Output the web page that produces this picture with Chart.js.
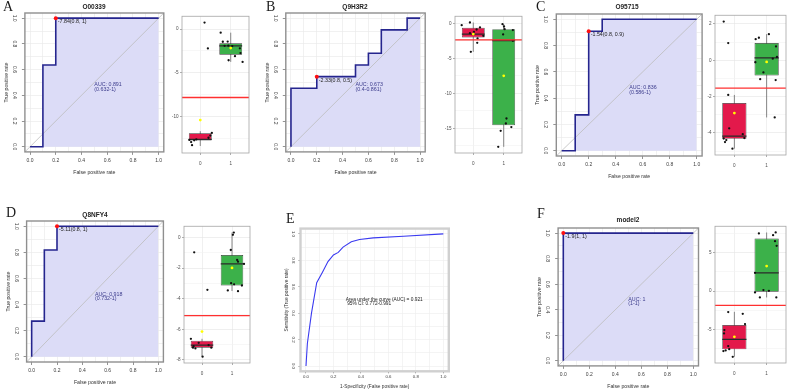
<!DOCTYPE html>
<html>
<head>
<meta charset="utf-8">
<script src="https://cdn.jsdelivr.net/npm/chart.js@4.4.1/dist/chart.umd.min.js"></script>
<style>
  html, body { margin:0; padding:0; background:#ffffff; }
  #page { position:relative; width:789px; height:392px; overflow:hidden; background:#fff; }
  #page canvas { position:absolute; }
  .letter { position:absolute; font-family:"Liberation Serif","DejaVu Serif",serif; font-size:14px; line-height:14px; color:#1a1a1a; }
  .ptitle { position:absolute; font-family:"Liberation Sans",Arial,sans-serif; font-weight:bold; font-size:6.5px; line-height:7px; color:#222; transform:translate(-50%,-50%); white-space:nowrap; }
</style>
</head>
<body>
<div id="page"></div>
<script>
// ===================== DATA =====================
const panelLetters = ['A', 'B', 'C', 'D', 'E', 'F'];
const panelTitles  = ['O00339', 'Q9H3R2', 'O95715', 'Q8NFY4', '', 'model2'];
const groupLabels  = ['0', '1'];
const rocTickVals   = [0, 0.2, 0.4, 0.6, 0.8, 1];
const rocTickLabels = ['0.0', '0.2', '0.4', '0.6', '0.8', '1.0'];
const rocGridVals   = [0, 0.1, 0.2, 0.3, 0.4, 0.5, 0.6, 0.7, 0.8, 0.9, 1];

// ROC curves: false positive rate / true positive rate
const rocA_fpr = [0, 0.1, 0.1, 0.2, 0.2, 1];
const rocA_tpr = [0, 0, 0.636, 0.636, 1, 1];
const rocB_fpr = [0, 0, 0.2, 0.2, 0.5, 0.5, 0.6, 0.6, 0.7, 0.7, 0.9, 0.9, 1];
const rocB_tpr = [0, 0.455, 0.455, 0.545, 0.545, 0.636, 0.636, 0.727, 0.727, 0.909, 0.909, 1, 1];
const rocC_fpr = [0, 0.1, 0.1, 0.2, 0.2, 0.3, 0.3, 1];
const rocC_tpr = [0, 0, 0.273, 0.273, 0.909, 0.909, 1, 1];
const rocD_fpr = [0, 0, 0.1, 0.1, 0.2, 0.2, 1];
const rocD_tpr = [0, 0.273, 0.273, 0.818, 0.818, 1, 1];
const rocE_fpr = [0, 0.01, 0.04, 0.078, 0.12, 0.16, 0.2, 0.235, 0.27, 0.33, 0.39, 0.49, 0.71, 1];
const rocE_tpr = [0, 0.17, 0.4, 0.63, 0.71, 0.79, 0.84, 0.86, 0.9, 0.94, 0.957, 0.97, 0.982, 1];
const rocF_fpr = [0, 0, 1];
const rocF_tpr = [0, 1, 1];

// best threshold points [fpr, tpr] and texts
const thrA = [0.2, 1];     const thrTextA = '-7.84(0.8, 1)';   const aucTextA = ['AUC: 0.891', '(0.632-1)'];
const thrB = [0.2, 0.545]; const thrTextB = '-2.33(0.8, 0.5)'; const aucTextB = ['AUC: 0.673', '(0.4-0.861)'];
const thrC = [0.2, 0.909]; const thrTextC = '-1.54(0.8, 0.9)'; const aucTextC = ['AUC: 0.836', '(0.586-1)'];
const thrD = [0.2, 1];     const thrTextD = '-5.11(0.8, 1)';   const aucTextD = ['AUC: 0.918', '(0.732-1)'];
const thrF = [0, 1];       const thrTextF = '-1.9(1, 1)';      const aucTextF = ['AUC: 1', '(1-1)'];
const aucTextE = ['Area under the curve (AUC) = 0.921', '95% CI: 0.772-0.991'];

// Box plots: [group0, group1]
const boxA_q1 = [-12.78, -2.93]; const boxA_med = [-12.63, -1.92]; const boxA_q3 = [-11.95, -1.62];
const boxA_lo = [-13.4, -3.76];  const boxA_hi = [-11.7, -0.41];   const boxA_mean = [-10.43, -2.18];
const boxA_thr = -7.84; const boxA_range = [-14.2, 1.47]; const boxA_step = 5;
const boxA_x0 = [0.14, 0.25, -0.36, -0.3, -0.27, -0.2, -0.13, 0.27, 0.33, 0.38];
const boxA_y0 = [0.75, -2.22, -12.7, -12.95, -13.3, -12.75, -12.65, -12.45, -12.2, -11.9];
const boxA_x1 = [-0.33, -0.26, -0.2, -0.1, -0.08, -0.07, 0.05, 0.14, 0.3, 0.32, 0.39];
const boxA_y1 = [-0.41, -1.45, -1.92, -1.43, -1.9, -3.57, -1.95, -3.1, -2.2, -2.75, -3.76];

const boxB_q1 = [-2.0, -14.52]; const boxB_med = [-1.52, -2.43]; const boxB_q3 = [-0.62, -0.81];
const boxB_lo = [-4.05, -17.62]; const boxB_hi = [0.14, -0.1];   const boxB_mean = [-1.52, -7.48];
const boxB_thr = -2.33; const boxB_range = [-18.5, 1.03]; const boxB_step = 5;
const boxB_x0 = [-0.38, -0.11, -0.11, 0.11, 0.22, 0.33, 0.14, 0.13, -0.08, 0.02];
const boxB_y0 = [-0.24, 0.14, -1.38, -0.86, -0.57, -1.76, -2.14, -2.76, -4.05, -1.2];
const boxB_x1 = [-0.04, 0.01, 0.03, -0.02, 0.3, 0.3, 0.09, 0.07, -0.1, 0.25, -0.18];
const boxB_y1 = [-0.1, -0.43, -0.81, -1.57, -0.95, -2.48, -13.57, -14.29, -15.33, -14.8, -17.62];

const boxC_q1 = [-4.33, -0.84]; const boxC_med = [-4.18, 0.13]; const boxC_q3 = [-2.36, 0.95];
const boxC_lo = [-4.87, -3.15]; const boxC_hi = [-1.91, 1.44];  const boxC_mean = [-2.91, -0.09];
const boxC_thr = -1.54; const boxC_range = [-5.22, 2.48]; const boxC_step = 2;
const boxC_x0 = [-0.33, -0.19, -0.19, -0.16, -0.33, -0.29, -0.25, -0.06, 0.26, 0.31];
const boxC_y0 = [2.13, 0.95, -1.91, -3.75, -4.31, -4.51, -4.4, -4.87, -4.07, -4.29];
const boxC_x1 = [-0.34, -0.24, 0.07, 0.29, 0.32, 0.19, -0.35, -0.1, -0.2, 0.28, 0.25];
const boxC_y1 = [1.16, 1.24, 1.44, 0.76, 0.18, 0.09, -0.11, -0.67, -1.04, -1.09, -3.15];

const boxD_q1 = [-7.2, -3.14]; const boxD_med = [-7.03, -1.73]; const boxD_q3 = [-6.75, -1.15];
const boxD_lo = [-7.79, -3.5]; const boxD_hi = [-6.62, 0.32];   const boxD_mean = [-6.15, -1.99];
const boxD_thr = -5.11; const boxD_range = [-8.2, 0.73]; const boxD_step = 2;
const boxD_x0 = [-0.26, 0.18, -0.37, -0.3, -0.22, -0.11, 0.02, 0.22, 0.31, -0.28];
const boxD_y0 = [-0.97, -3.42, -6.62, -7.2, -7.25, -6.88, -7.79, -7.03, -7.2, -7.1];
const boxD_x1 = [0.06, 0.03, -0.04, 0.17, 0.2, 0.4, -0.03, 0.07, 0.33, -0.14, 0.2];
const boxD_y1 = [0.32, 0.17, -0.82, -1.47, -1.58, -1.73, -2.99, -3.06, -3.14, -3.46, -3.51];

const boxF_q1 = [-7.6, -0.09]; const boxF_med = [-6.3, 2.39]; const boxF_q3 = [-4.43, 6.87];
const boxF_lo = [-8.57, -0.83]; const boxF_hi = [-2.7, 7.65];  const boxF_mean = [-5.96, 3.26];
const boxF_thr = -1.85; const boxF_range = [-9.38, 8.46]; const boxF_step = 5;
const boxF_x0 = [-0.19, 0.26, 0.33, -0.31, -0.32, -0.34, -0.27, -0.19, -0.16, -0.05];
const boxF_y0 = [-2.74, -2.96, -4.3, -5.09, -5.52, -7.83, -7.74, -7.17, -7.57, -8.57];
const boxF_x1 = [-0.24, 0.2, 0.28, 0.26, 0.31, -0.36, -0.36, -0.1, 0.07, -0.21, 0.3];
const boxF_y1 = [7.52, 7.3, 7.65, 6.52, 5.91, 2.39, -0.17, 0.13, 0.04, -0.83, -0.83];

// ===================== RENDERING =====================
const FONT = '"Liberation Sans", Arial, Helvetica, sans-serif';
Chart.defaults.font.family = FONT;
const page = document.getElementById('page');
const ROC_MIN = -0.04, ROC_MAX = 1.04;

function makeCanvas(area, m) {
  const left = Math.round(area.l - m.ly), top = Math.round(area.t - m.pt);
  const right = Math.round(area.r + m.pr), bottom = Math.round(area.b + m.lx);
  const c = document.createElement('canvas');
  c.width = right - left; c.height = bottom - top;
  c.style.left = left + 'px'; c.style.top = top + 'px';
  c.style.width = (right - left) + 'px'; c.style.height = (bottom - top) + 'px';
  page.appendChild(c);
  return { canvas: c, ly: area.l - left, lx: bottom - area.b, pt: area.t - top, pr: right - area.r };
}

function framePlugin(color, width) {
  return {
    id: 'frame',
    afterDatasetsDraw(chart) {
      const { ctx, chartArea: a } = chart;
      ctx.save(); ctx.strokeStyle = color; ctx.lineWidth = width;
      ctx.strokeRect(a.left, a.top, a.right - a.left, a.bottom - a.top);
      ctx.restore();
    }
  };
}
function notesPlugin(items) {
  return {
    id: 'notes',
    afterDatasetsDraw(chart) {
      const { ctx } = chart; const xs = chart.scales.x, ys = chart.scales.y;
      items.forEach(it => {
        ctx.save(); ctx.font = it.font; ctx.fillStyle = it.color;
        ctx.textAlign = 'left'; ctx.textBaseline = 'middle';
        ctx.fillText(it.text, xs.getPixelForValue(it.x) + (it.dx || 0), ys.getPixelForValue(it.y) + (it.dy || 0));
        ctx.restore();
      });
    }
  };
}

function isRocLabeled(v) { return rocTickVals.some(t => Math.abs(t - v) < 1e-9); }
function rocAxis(axis, m, st, titleText) {
  const isX = axis === 'x';
  return {
    type: 'linear', min: ROC_MIN, max: ROC_MAX, offset: false,
    afterBuildTicks: s => { s.ticks = rocGridVals.map(v => ({ value: v })); },
    afterFit: s => { if (isX) s.height = m.lx; else s.width = m.ly; },
    ticks: {
      autoSkip: false, font: { family: FONT, size: st.tick }, color: '#3a3a3a',
      padding: isX ? st.xpad : st.ypad,
      minRotation: isX ? 0 : -90, maxRotation: isX ? 0 : 90,
      crossAlign: 'center',
      callback: v => { const i = rocTickVals.findIndex(t => Math.abs(t - v) < 1e-9); return i >= 0 ? rocTickLabels[i] : ''; }
    },
    grid: {
      color: st.grid, lineWidth: 0.6, tickLength: st.tl, drawTicks: true,
      tickColor: c => (c.tick && isRocLabeled(c.tick.value) ? '#666' : 'rgba(0,0,0,0)'), tickWidth: 0.7
    },
    border: { display: false },
    title: { display: true, text: titleText, font: { family: FONT, size: st.title }, color: '#333', padding: { top: 0, bottom: 0 } }
  };
}

function rocChart(area, fpr, tpr, thr, thrText, aucText) {
  const m = makeCanvas(area, { ly: 22, lx: 24, pt: 6, pr: 8 });
  const st = { tick: 5, title: 5.2, xpad: 6, ypad: 4, tl: 3, grid: '#e7e7e7' };
  const pts = fpr.map((v, i) => ({ x: v, y: tpr[i] }));
  const noteFont = '5.3px ' + FONT;
  const notes = [
    { text: thrText, x: thr[0], y: thr[1], dx: 2, dy: 3.5, font: noteFont, color: '#222' },
    { text: aucText[0], x: 0.5, y: 0.48, font: noteFont, color: '#3c3c8c' },
    { text: aucText[1], x: 0.5, y: 0.445, font: noteFont, color: '#3c3c8c' }
  ];
  new Chart(m.canvas, {
    type: 'line',
    data: { datasets: [
      { data: pts, borderWidth: 0, backgroundColor: '#dcdcf7', fill: 'origin', pointRadius: 0, order: 3 },
      { data: [{ x: ROC_MIN, y: ROC_MIN }, { x: ROC_MAX, y: ROC_MAX }], borderColor: '#bdbdbd', borderWidth: 0.8, pointRadius: 0, fill: false, order: 2 },
      { data: pts, borderColor: '#25258e', borderWidth: 1.6, pointRadius: 0, fill: false, order: 1 },
      { type: 'scatter', data: [{ x: thr[0], y: thr[1] }], backgroundColor: '#ff1010', borderWidth: 0, pointRadius: 2, order: 0 }
    ] },
    options: {
      responsive: false, animation: false, events: [],
      layout: { autoPadding: false, padding: { top: m.pt, right: m.pr, left: 0, bottom: 0 } },
      plugins: { legend: { display: false }, tooltip: { enabled: false } },
      scales: { x: rocAxis('x', m, st, 'False positive rate'), y: rocAxis('y', m, st, 'True positive rate') }
    },
    plugins: [framePlugin('#8f8f8f', 1.4), notesPlugin(notes)]
  });
}

function rocChartE(area, fpr, tpr, texts) {
  const m = makeCanvas(area, { ly: 17, lx: 19, pt: 4, pr: 6 });
  const st = { tick: 4.3, title: 4.8, xpad: 4, ypad: 2, tl: 2, grid: '#ececec' };
  const pts = fpr.map((v, i) => ({ x: v, y: tpr[i] }));
  const f = '4.8px ' + FONT;
  const notes = [
    { text: texts[0], x: 0.29, y: 0.505, font: f, color: '#222' },
    { text: texts[1], x: 0.30, y: 0.468, font: f, color: '#222' }
  ];
  new Chart(m.canvas, {
    type: 'line',
    data: { datasets: [
      { data: pts, borderColor: '#3a3af0', borderWidth: 1.1, pointRadius: 0, fill: false, tension: 0 }
    ] },
    options: {
      responsive: false, animation: false, events: [],
      layout: { autoPadding: false, padding: { top: m.pt, right: m.pr, left: 0, bottom: 0 } },
      plugins: { legend: { display: false }, tooltip: { enabled: false } },
      scales: { x: rocAxis('x', m, st, '1-Specificity (False positive rate)'), y: rocAxis('y', m, st, 'Sensitivity (True positive rate)') }
    },
    plugins: [framePlugin('#d0d0d0', 2.4), notesPlugin(notes)]
  });
}

function boxChart(area, d) {
  const m = makeCanvas(area, { ly: 13, lx: 15, pt: 4, pr: 2 });
  const half = 0.375;
  const whisk = [{ x: 0, y: d.lo[0] }, { x: 0, y: d.hi[0] }, { x: 0.5, y: null }, { x: 1, y: d.lo[1] }, { x: 1, y: d.hi[1] }];
  const meds = [{ x: -half, y: d.med[0] }, { x: half, y: d.med[0] }, { x: 0.5, y: null }, { x: 1 - half, y: d.med[1] }, { x: 1 + half, y: d.med[1] }];
  const pts = d.x0.map((o, i) => ({ x: o, y: d.y0[i] })).concat(d.x1.map((o, i) => ({ x: 1 + o, y: d.y1[i] })));
  const isMajor = v => Math.abs(v / d.step - Math.round(v / d.step)) < 1e-6;
  new Chart(m.canvas, {
    type: 'scatter',
    data: { datasets: [
      { type: 'line', data: whisk, borderColor: '#555', borderWidth: 0.7, pointRadius: 0, spanGaps: false, fill: false, order: 6 },
      { type: 'bar', data: [{ x: 0, y: [d.q1[0], d.q3[0]] }, { x: 1, y: [d.q1[1], d.q3[1]] }],
        backgroundColor: ['#e3194b', '#3cb14a'], borderColor: '#333', borderWidth: 0.7, borderSkipped: false,
        barPercentage: 0.75, categoryPercentage: 1, order: 5 },
      { type: 'line', data: meds, borderColor: '#2a2a2a', borderWidth: 1.3, pointRadius: 0, spanGaps: false, fill: false, order: 4 },
      { data: pts, backgroundColor: '#111', borderWidth: 0, pointRadius: 1.15, order: 2 },
      { data: [{ x: 0, y: d.mean[0] }, { x: 1, y: d.mean[1] }], backgroundColor: '#ffff00', borderWidth: 0, pointRadius: 1.4, order: 1 },
      { type: 'line', data: [{ x: -0.6, y: d.thr }, { x: 1.6, y: d.thr }], borderColor: '#ff3030', borderWidth: 1.3, pointRadius: 0, fill: false, order: -1 }
    ] },
    options: {
      responsive: false, animation: false, events: [],
      layout: { autoPadding: false, padding: { top: m.pt, right: m.pr, left: 0, bottom: 0 } },
      plugins: { legend: { display: false }, tooltip: { enabled: false } },
      scales: {
        x: {
          type: 'linear', min: -0.6, max: 1.6, offset: false,
          afterBuildTicks: s => { s.ticks = [{ value: 0 }, { value: 1 }]; },
          afterFit: s => { s.height = m.lx; },
          ticks: { autoSkip: false, font: { family: FONT, size: 4.6 }, color: '#4d4d4d', padding: 5.5, maxRotation: 0, minRotation: 0,
                   callback: (v, i) => groupLabels[i] },
          grid: { color: '#e6e6e6', lineWidth: 0.6, tickLength: 2, tickColor: '#777', offset: false },
          border: { display: false }
        },
        y: {
          type: 'linear', min: d.range[0], max: d.range[1],
          afterBuildTicks: s => {
            const h = d.step / 2; const t = [];
            for (let k = Math.ceil(d.range[0] / h); k * h <= d.range[1]; k++) t.push({ value: k * h });
            s.ticks = t;
          },
          afterFit: s => { s.width = m.ly; },
          ticks: { autoSkip: false, font: { family: FONT, size: 4.6 }, color: '#4d4d4d', padding: 1.5,
                   callback: v => (isMajor(v) ? String(Math.round(v)) : '') },
          grid: { color: c => (c.tick && isMajor(c.tick.value) ? '#e4e4e4' : '#f2f2f2'), lineWidth: 0.6, tickLength: 2,
                  tickColor: c => (c.tick && isMajor(c.tick.value) ? '#777' : 'rgba(0,0,0,0)') },
          border: { display: false }
        }
      }
    },
    plugins: [framePlugin('#a5a5a5', 0.8)]
  });
}

function pack(q1, med, q3, lo, hi, mean, thr, range, step, x0, y0, x1, y1) {
  return { q1, med, q3, lo, hi, mean, thr, range, step, x0, y0, x1, y1 };
}

// ROC panels
rocChart({ l: 24.9, r: 163.8, t: 12.1, b: 151.9 }, rocA_fpr, rocA_tpr, thrA, thrTextA, aucTextA);
rocChart({ l: 285.8, r: 425.2, t: 12.1, b: 151.9 }, rocB_fpr, rocB_tpr, thrB, thrTextB, aucTextB);
rocChart({ l: 556.3, r: 702.1, t: 13.0, b: 156.0 }, rocC_fpr, rocC_tpr, thrC, thrTextC, aucTextC);
rocChart({ l: 26.6, r: 163.4, t: 219.7, b: 362.0 }, rocD_fpr, rocD_tpr, thrD, thrTextD, aucTextD);
rocChartE({ l: 300.5, r: 448.8, t: 228.0, b: 371.3 }, rocE_fpr, rocE_tpr, aucTextE);
rocChart({ l: 558.1, r: 698.5, t: 226.5, b: 365.9 }, rocF_fpr, rocF_tpr, thrF, thrTextF, aucTextF);

// Box panels
boxChart({ l: 182, r: 249, t: 16, b: 153 }, pack(boxA_q1, boxA_med, boxA_q3, boxA_lo, boxA_hi, boxA_mean, boxA_thr, boxA_range, boxA_step, boxA_x0, boxA_y0, boxA_x1, boxA_y1));
boxChart({ l: 455, r: 522, t: 16, b: 153 }, pack(boxB_q1, boxB_med, boxB_q3, boxB_lo, boxB_hi, boxB_mean, boxB_thr, boxB_range, boxB_step, boxB_x0, boxB_y0, boxB_x1, boxB_y1));
boxChart({ l: 715, r: 786, t: 15, b: 155 }, pack(boxC_q1, boxC_med, boxC_q3, boxC_lo, boxC_hi, boxC_mean, boxC_thr, boxC_range, boxC_step, boxC_x0, boxC_y0, boxC_x1, boxC_y1));
boxChart({ l: 184, r: 250, t: 225.5, b: 363 }, pack(boxD_q1, boxD_med, boxD_q3, boxD_lo, boxD_hi, boxD_mean, boxD_thr, boxD_range, boxD_step, boxD_x0, boxD_y0, boxD_x1, boxD_y1));
boxChart({ l: 715, r: 786, t: 226, b: 363 }, pack(boxF_q1, boxF_med, boxF_q3, boxF_lo, boxF_hi, boxF_mean, boxF_thr, boxF_range, boxF_step, boxF_x0, boxF_y0, boxF_x1, boxF_y1));

// Panel letters and titles (HTML text)
const letterPos = [[3, 0], [266, 0], [536, 0], [6, 206], [286, 212], [537, 207]];
const titlePos = [[94, 6], [355, 6], [627, 6], [95, 214], [0, 0], [628, 219]];
panelLetters.forEach((L, i) => {
  const d = document.createElement('div'); d.className = 'letter'; d.textContent = L;
  d.style.left = letterPos[i][0] + 'px'; d.style.top = letterPos[i][1] + 'px'; page.appendChild(d);
  if (panelTitles[i]) {
    const t = document.createElement('div'); t.className = 'ptitle'; t.textContent = panelTitles[i];
    t.style.left = titlePos[i][0] + 'px'; t.style.top = titlePos[i][1] + 'px'; page.appendChild(t);
  }
});
</script>
</body>
</html>
